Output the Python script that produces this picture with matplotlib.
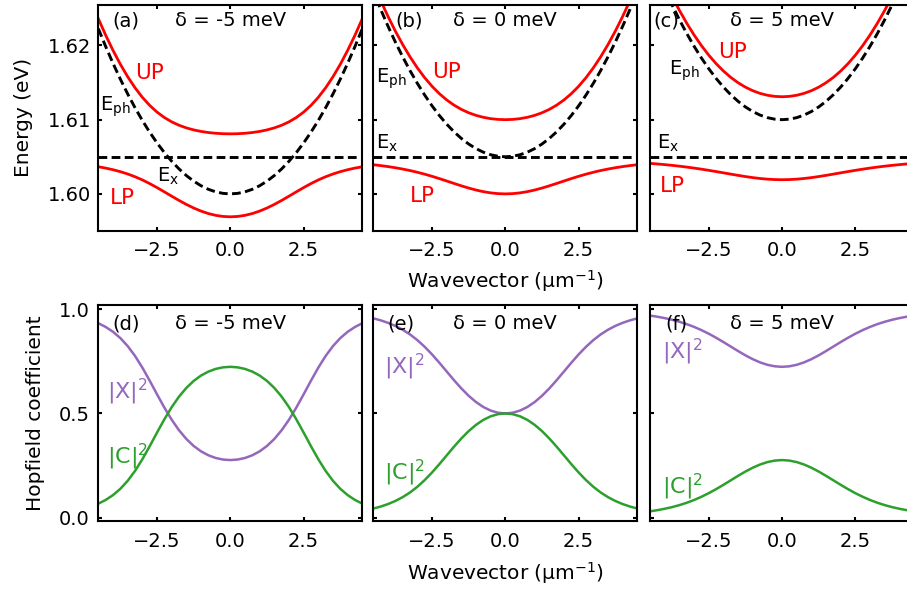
import matplotlib
matplotlib.use("Agg")
import matplotlib.pyplot as plt
from matplotlib.ticker import MultipleLocator

plt.rcParams['font.family'] = ['DejaVu Sans']
plt.rcParams['mathtext.fontset'] = 'dejavusans'

# wavevector (um^-1), k >= 0 half; all curves are symmetric in k
k_half = [0.0, 0.25, 0.5, 0.75, 1.0, 1.25, 1.5, 1.75, 2.0, 2.25,
          2.5, 2.75, 3.0, 3.25, 3.5, 3.75, 4.0, 4.25, 4.5]

E_X = 1.605  # exciton energy (eV)
detuning_meV = [-5, 0, 5]
top_tags = ['(a)', '(b)', '(c)']
bottom_tags = ['(d)', '(e)', '(f)']

# photon dispersion (eV)
e_ph = [
    [1.600000, 1.600069, 1.600275, 1.600619, 1.601100, 1.601719, 1.602475, 1.603369, 1.604400, 1.605569,
     1.606875, 1.608319, 1.609900, 1.611619, 1.613475, 1.615469, 1.617600, 1.619869, 1.622275],
    [1.605000, 1.605069, 1.605275, 1.605619, 1.606100, 1.606719, 1.607475, 1.608369, 1.609400, 1.610569,
     1.611875, 1.613319, 1.614900, 1.616619, 1.618475, 1.620469, 1.622600, 1.624869, 1.627275],
    [1.610000, 1.610069, 1.610275, 1.610619, 1.611100, 1.611719, 1.612475, 1.613369, 1.614400, 1.615569,
     1.616875, 1.618319, 1.619900, 1.621619, 1.623475, 1.625469, 1.627600, 1.629869, 1.632275],
]
# upper polariton (eV)
e_up = [
    [1.608090, 1.608109, 1.608168, 1.608268, 1.608417, 1.608622, 1.608894, 1.609251, 1.609709, 1.610293,
     1.611025, 1.611928, 1.613018, 1.614305, 1.615792, 1.617473, 1.619343, 1.621394, 1.623618],
    [1.610000, 1.610035, 1.610139, 1.610319, 1.610580, 1.610933, 1.611388, 1.611961, 1.612663, 1.613507,
     1.614505, 1.615663, 1.616986, 1.618474, 1.620128, 1.621944, 1.623921, 1.626056, 1.628346],
    [1.613090, 1.613140, 1.613291, 1.613545, 1.613907, 1.614383, 1.614980, 1.615704, 1.616562, 1.617559,
     1.618700, 1.619987, 1.621422, 1.623007, 1.624741, 1.626625, 1.628657, 1.630836, 1.633163],
]
# lower polariton (eV)
e_lp = [
    [1.596910, 1.596960, 1.597108, 1.597351, 1.597683, 1.598097, 1.598581, 1.599118, 1.599691, 1.600276,
     1.600850, 1.601391, 1.601882, 1.602313, 1.602683, 1.602996, 1.603257, 1.603475, 1.603657],
    [1.600000, 1.600034, 1.600136, 1.600300, 1.600520, 1.600786, 1.601087, 1.601408, 1.601737, 1.602061,
     1.602370, 1.602656, 1.602914, 1.603145, 1.603347, 1.603525, 1.603679, 1.603813, 1.603929],
    [1.601910, 1.601929, 1.601985, 1.602074, 1.602193, 1.602336, 1.602495, 1.602665, 1.602838, 1.603009,
     1.603175, 1.603332, 1.603478, 1.603612, 1.603734, 1.603844, 1.603943, 1.604032, 1.604112],
]
# Hopfield coefficients (exciton |X|^2, photon |C|^2)
x2 = [
    [0.2764, 0.2789, 0.2864, 0.2994, 0.3183, 0.3441, 0.3776, 0.4195, 0.4700, 0.5284,
     0.5921, 0.6575, 0.7200, 0.7760, 0.8233, 0.8616, 0.8917, 0.9149, 0.9327],
    [0.5000, 0.5034, 0.5137, 0.5309, 0.5547, 0.5847, 0.6201, 0.6596, 0.7014, 0.7433,
     0.7833, 0.8198, 0.8518, 0.8790, 0.9015, 0.9199, 0.9347, 0.9466, 0.9561],
    [0.7236, 0.7261, 0.7333, 0.7449, 0.7604, 0.7788, 0.7994, 0.8209, 0.8425, 0.8632,
     0.8825, 0.8998, 0.9152, 0.9284, 0.9397, 0.9493, 0.9572, 0.9639, 0.9694],
]
c2 = [
    [0.7236, 0.7211, 0.7136, 0.7006, 0.6817, 0.6559, 0.6224, 0.5805, 0.5300, 0.4716,
     0.4079, 0.3425, 0.2800, 0.2240, 0.1767, 0.1384, 0.1083, 0.0851, 0.0673],
    [0.5000, 0.4966, 0.4863, 0.4691, 0.4453, 0.4153, 0.3799, 0.3404, 0.2986, 0.2567,
     0.2167, 0.1802, 0.1482, 0.1210, 0.0985, 0.0801, 0.0653, 0.0534, 0.0439],
    [0.2764, 0.2739, 0.2667, 0.2551, 0.2396, 0.2212, 0.2006, 0.1791, 0.1575, 0.1368,
     0.1175, 0.1002, 0.0848, 0.0716, 0.0603, 0.0507, 0.0428, 0.0361, 0.0306],
]

RED = '#ff0000'
PURPLE = '#9467bd'
GREEN = '#2ca02c'
DASH = (3.0, 1.5)
TICK_FS = 14


def full(vals):
    return vals[::-1] + vals[1:]


k_full = [-k for k in k_half[::-1]] + k_half[1:]

# label positions (data coords, left/baseline)
top_labels = [
    {'UP': (-3.24, 1.6155), 'Eph': (-4.43, 1.6112), 'Ex': (-2.49, 1.6016), 'LP': (-4.09, 1.5987)},
    {'UP': (-2.49, 1.6156), 'Eph': (-4.40, 1.6150), 'Ex': (-4.40, 1.6061), 'LP': (-3.27, 1.5989)},
    {'UP': (-2.18, 1.6183), 'Eph': (-3.85, 1.6160), 'Ex': (-4.26, 1.6061), 'LP': (-4.16, 1.6002)},
]
bottom_labels = [
    {'X': (-4.20, 0.572), 'C': (-4.20, 0.261)},
    {'X': (-4.13, 0.692), 'C': (-4.13, 0.181)},
    {'X': (-4.10, 0.764), 'C': (-4.10, 0.117)},
]
tag_x_top = [0.053, 0.083, 0.011]
tag_x_bottom = [0.053, 0.053, 0.057]

fig = plt.figure(figsize=(9.07, 5.90), dpi=100)
lefts = [0.1084, 0.4116, 0.7167]
width = 0.2911


def style(ax, xpad, ypad):
    ax.tick_params(direction='in', top=True, right=True, length=3.2, width=1.5,
                   labelsize=TICK_FS)
    ax.tick_params(axis='x', pad=xpad)
    ax.tick_params(axis='y', pad=ypad)
    for s in ax.spines.values():
        s.set_linewidth(1.5)
    ax.set_xlim(-4.5, 4.5)
    ax.xaxis.set_major_locator(MultipleLocator(2.5))


for i in range(3):
    ax = fig.add_axes([lefts[i], 0.6085, width, 0.3836])
    ax.axhline(E_X, color='k', ls='--', dashes=DASH, lw=2.1)
    ax.plot(k_full, full(e_ph[i]), color='k', ls='--', dashes=DASH, lw=2.1)
    ax.plot(k_full, full(e_up[i]), color=RED, lw=2.0)
    ax.plot(k_full, full(e_lp[i]), color=RED, lw=2.0)
    ax.set_ylim(1.595, 1.6255)
    ax.yaxis.set_major_locator(MultipleLocator(0.01))
    style(ax, 7, 5)
    lab = top_labels[i]
    ax.text(*lab['UP'], 'UP', color=RED, fontsize=15.5)
    ax.text(*lab['LP'], 'LP', color=RED, fontsize=15.5)
    ax.text(*lab['Eph'], r'E$_{\mathrm{ph}}$', color='k', fontsize=14)
    ax.text(*lab['Ex'], r'E$_{\mathrm{x}}$', color='k', fontsize=14)
    ax.text(tag_x_top[i], 0.928, top_tags[i], transform=ax.transAxes,
            fontsize=14, va='center', ha='left')
    ax.text(0.5, 0.928, 'δ = %d meV' % detuning_meV[i], transform=ax.transAxes,
            fontsize=14, va='center', ha='center')
    if i == 0:
        ax.set_ylabel('Energy (eV)', fontsize=14.5)
        ax.yaxis.set_label_coords(-0.246, 0.5)
    else:
        ax.tick_params(labelleft=False)
    if i == 1:
        ax.set_xlabel('Wavevector (μm$^{-1}$)', fontsize=14.5)
        ax.xaxis.set_label_coords(0.5, -0.1635)

for i in range(3):
    ax = fig.add_axes([lefts[i], 0.1169, width, 0.3661])
    ax.plot(k_full, full(x2[i]), color=PURPLE, lw=1.8)
    ax.plot(k_full, full(c2[i]), color=GREEN, lw=1.8)
    ax.set_ylim(-0.016, 1.02)
    ax.yaxis.set_major_locator(MultipleLocator(0.5))
    style(ax, 8, 6)
    lab = bottom_labels[i]
    ax.text(*lab['X'], '|X|$^2$', color=PURPLE, fontsize=16)
    ax.text(*lab['C'], '|C|$^2$', color=GREEN, fontsize=16)
    ax.text(tag_x_bottom[i], 0.914, bottom_tags[i], transform=ax.transAxes,
            fontsize=14, va='center', ha='left')
    ax.text(0.5, 0.914, 'δ = %d meV' % detuning_meV[i], transform=ax.transAxes,
            fontsize=14, va='center', ha='center')
    if i == 0:
        ax.set_ylabel('Hopfield coefficient', fontsize=14.5)
        ax.yaxis.set_label_coords(-0.202, 0.5)
    else:
        ax.tick_params(labelleft=False)
    if i == 1:
        ax.set_xlabel('Wavevector (μm$^{-1}$)', fontsize=14.5)
        ax.xaxis.set_label_coords(0.5, -0.181)

fig.savefig('out.png', dpi=100)
